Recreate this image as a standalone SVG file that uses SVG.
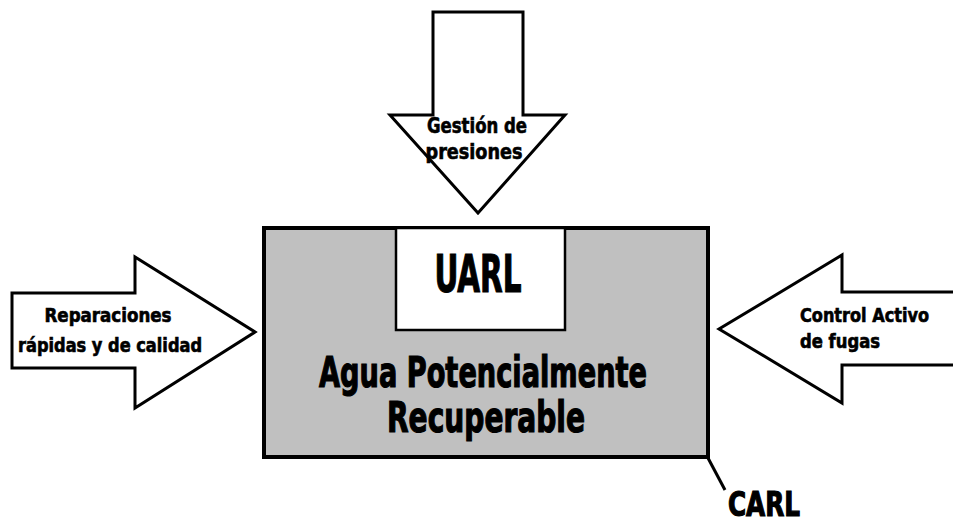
<svg xmlns="http://www.w3.org/2000/svg" width="953" height="525" viewBox="0 0 953 525">
<style>
.arrow{fill:#ffffff;stroke:#000000;stroke-width:3;stroke-linejoin:miter}
.t{font-family:"Liberation Sans Narrow","DejaVu Sans Condensed","Liberation Sans",sans-serif;font-weight:bold;fill:#000000;stroke:#000000;stroke-width:0.6}
.big{stroke-width:1.2}
.c{text-anchor:middle}
</style>
<rect width="953" height="525" fill="#ffffff"/>
<g id="connectors">
<line x1="708" y1="458" x2="725" y2="490" stroke="#000" stroke-width="3"/>
</g>
<g id="carl-box">
<rect x="264" y="228" width="444" height="229" fill="#c0c0c0" stroke="#000" stroke-width="4"/>
<text class="t big c" x="483" y="387" font-size="42" textLength="328" lengthAdjust="spacingAndGlyphs">Agua Potencialmente</text>
<text class="t big c" x="486" y="432" font-size="42" textLength="198" lengthAdjust="spacingAndGlyphs">Recuperable</text>
</g>
<g id="uarl">
<rect x="396" y="228" width="169" height="102" fill="#ffffff" stroke="#000" stroke-width="2.5"/>
<text class="t big c" x="478" y="292" font-size="52" textLength="87" lengthAdjust="spacingAndGlyphs">UARL</text>
</g>
<g id="gestion">
<polygon class="arrow" points="433,12 523,12 523,115 565,115 478,213 390,115 433,115"/>
<text class="t c" x="477" y="133" font-size="21" textLength="100" lengthAdjust="spacingAndGlyphs">Gestión de</text>
<text class="t c" x="474" y="159" font-size="21" textLength="97" lengthAdjust="spacingAndGlyphs">presiones</text>
</g>
<g id="reparaciones">
<polygon class="arrow" points="12,293 135,293 135,257 255,332 135,408 135,368 12,368"/>
<text class="t c" x="108" y="322" font-size="19" textLength="127" lengthAdjust="spacingAndGlyphs">Reparaciones</text>
<text class="t c" x="110" y="352" font-size="19" textLength="184" lengthAdjust="spacingAndGlyphs">rápidas y de calidad</text>
</g>
<g id="control">
<polygon class="arrow" points="960,292 842,292 842,255 719,329 842,403 842,365 960,365"/>
<text class="t" x="800" y="322" font-size="19" textLength="129" lengthAdjust="spacingAndGlyphs">Control Activo</text>
<text class="t" x="800" y="348" font-size="19" textLength="80" lengthAdjust="spacingAndGlyphs">de fugas</text>
</g>
<g id="carl">
<text class="t big" x="728" y="516" font-size="34" textLength="72" lengthAdjust="spacingAndGlyphs">CARL</text>
</g>
</svg>
